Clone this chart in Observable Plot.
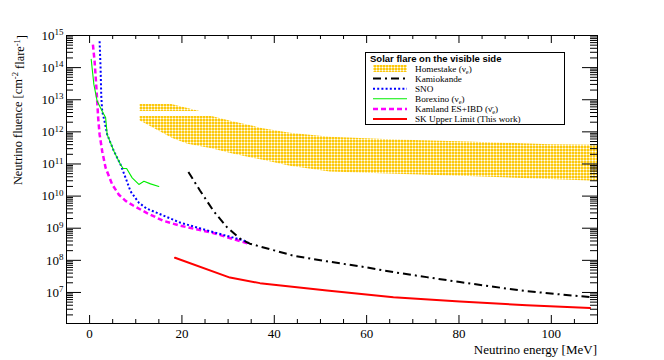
<!DOCTYPE html>
<html><head><meta charset="utf-8">
<script src="https://cdn.jsdelivr.net/npm/d3@7"></script>
<script src="https://cdn.jsdelivr.net/npm/@observablehq/plot@0.6"></script>
<style>
body{margin:0;background:#fff;}
#wrap{width:664px;height:360px;}
</style>
</head><body><div id="wrap"></div>
<script>
// ---- data ----
const xMajor = [0, 20, 40, 60, 80, 100];
const xMinor = [5, 10, 15, 25, 30, 35, 45, 50, 55, 65, 70, 75, 85, 90, 95, 105];
const yMajor = [1e7, 1e8, 1e9, 1e10, 1e11, 1e12, 1e13, 1e14, 1e15];
const yDecades = [6, 7, 8, 9, 10, 11, 12, 13, 14];
const yMinorFactors = [2, 3, 4, 5, 6, 7, 8, 9];

// Homestake band (main part)
const hsE    = [10.9, 18, 21.3, 26.5, 30.8, 37.6, 43.5, 52.1, 66.5, 82, 99.7, 110];
const hsHigh = [3.0e12, 3.0e12, 3.0e12, 3.0e12, 2.1e12, 1.26e12, 9.1e11, 6.8e11, 5.6e11, 4.8e11, 4.0e11, 3.8e11];
const hsLow  = [2.2e12, 6.2e11, 4.1e11, 3.0e11, 2.1e11, 1.3e11, 8.5e10, 5.6e10, 4.8e10, 4.1e10, 3.3e10, 2.9e10];
// Homestake band (small upper part)
const hs2E    = [10.9, 17.8, 23.9];
const hs2High = [7.1e12, 7.1e12, 4.3e12];
const hs2Low  = [4.3e12, 4.3e12, 4.3e12];

const kamiokandeE = [21.4, 23.9, 26.8, 29.7, 32.6, 34.7, 44.1, 51.4, 58.6, 65.8, 73.0, 80.2, 87.5, 94.7, 101.9, 108.8];
const kamiokandeF = [5.6e10, 1.5e10, 3.5e9, 1.1e9, 4.7e8, 3.3e8, 1.4e8, 9.3e7, 6.5e7, 4.3e7, 3.0e7, 2.1e7, 1.5e7, 1.1e7, 8.7e6, 7.1e6];

const snoE = [2.17, 2.38, 2.52, 2.73, 3.25, 3.81, 5.27, 6.72, 7.80, 8.88, 10.68, 12.35, 19.57, 26.7, 33.3, 34.4];
const snoF = [6.6e14, 1.0e14, 1.4e13, 4.4e12, 2.1e12, 8.3e11, 2.5e11, 9.5e10, 3.7e10, 1.4e10, 6.2e9, 4.1e9, 1.5e9, 7.6e8, 4.2e8, 3.5e8];

const borexinoE = [0.35, 0.93, 1.65, 2.73, 3.47, 3.81, 5.27, 6.72, 7.28, 8.02, 9.23, 10.68, 11.77, 13.2, 15.0];
const borexinoF = [1.8e14, 3.0e13, 8.9e12, 4.4e12, 2.8e12, 8.3e11, 2.5e11, 9.5e10, 7.2e10, 7.2e10, 3.7e10, 2.3e10, 2.9e10, 2.4e10, 2.0e10];

const kamlandE = [0.72, 1.08, 1.43, 1.65, 1.86, 2.17, 2.73, 3.47, 4.90, 6.35, 7.80, 9.45, 12.35, 15.95, 19.57, 26.78, 34.4];
const kamlandF = [5.2e14, 1.6e14, 3.0e13, 8.9e12, 2.7e12, 8.3e11, 2.5e11, 7.6e10, 2.3e10, 1.1e10, 7.1e9, 5.1e9, 3.0e9, 1.7e9, 1.2e9, 7.1e8, 3.3e8];

const skE = [18.5, 30.4, 36.9, 51.4, 65.8, 80.2, 94.7, 108.4];
const skF = [1.2e8, 2.9e7, 1.95e7, 1.15e7, 7.1e6, 5.2e6, 4.0e6, 3.3e6];

// ---- build ----
const W = 664, H = 360, mL = 66, mR = 67, mT = 35, mB = 37;
const innerW = W - mL - mR, innerH = H - mT - mB;
const fontSerif = "'Liberation Serif', 'Times New Roman', serif";
const yMinor = yDecades.flatMap(d => yMinorFactors.map(k => k * Math.pow(10, d))).filter(v => v > 1.08e6 && v < 1e15);
const pts = (E, F) => E.map((e, i) => ({e, f: F[i]}));
const band = (E, lo, hi) => E.map((e, i) => ({e, lo: lo[i], hi: hi[i]}));

const plot = Plot.plot({
  width: W, height: H,
  marginLeft: mL, marginRight: mR, marginTop: mT, marginBottom: mB,
  style: {fontFamily: fontSerif, fontSize: "13px", background: "white", color: "black"},
  x: {domain: [-5, 110]},
  y: {type: "log", domain: [1.08e6, 1e15]},
  marks: [
    Plot.areaY(band(hsE, hsLow, hsHigh), {x: "e", y1: "lo", y2: "hi", fill: "url(#hsPattern)", clip: true}),
    Plot.areaY(band(hs2E, hs2Low, hs2High), {x: "e", y1: "lo", y2: "hi", fill: "url(#hsPattern)", clip: true}),
    Plot.line(pts(kamlandE, kamlandF), {x: "e", y: "f", stroke: "#ff00ff", strokeWidth: 2.5, strokeDasharray: "5,3", strokeLinecap: "butt", clip: true}),
    Plot.line(pts(snoE, snoF), {x: "e", y: "f", stroke: "#0000ff", strokeWidth: 2, strokeDasharray: "2,2.2", strokeLinecap: "butt", clip: true}),
    Plot.line(pts(borexinoE, borexinoF), {x: "e", y: "f", stroke: "#00ee00", strokeWidth: 1.1, clip: true}),
    Plot.line(pts(kamiokandeE, kamiokandeF), {x: "e", y: "f", stroke: "black", strokeWidth: 2, strokeDasharray: "8,4,2,4", strokeLinecap: "butt", clip: true}),
    Plot.line(pts(skE, skF), {x: "e", y: "f", stroke: "#ff0000", strokeWidth: 2, clip: true}),
    Plot.frame({stroke: "black"}),
    // x ticks (inward), bottom and top
    Plot.tickX(xMajor, {x: d => d, stroke: "black", insetTop: innerH - 8}),
    Plot.tickX(xMinor, {x: d => d, stroke: "black", insetTop: innerH - 4}),
    Plot.tickX(xMajor, {x: d => d, stroke: "black", insetBottom: innerH - 8}),
    Plot.tickX(xMinor, {x: d => d, stroke: "black", insetBottom: innerH - 4}),
    // y ticks (inward), left and right
    Plot.tickY(yMajor, {y: d => d, stroke: "black", insetRight: innerW - 15}),
    Plot.tickY(yMinor, {y: d => d, stroke: "black", insetRight: innerW - 7}),
    Plot.tickY(yMajor, {y: d => d, stroke: "black", insetLeft: innerW - 15}),
    Plot.tickY(yMinor, {y: d => d, stroke: "black", insetLeft: innerW - 7}),
    Plot.axisX(xMajor, {anchor: "bottom", tickSize: 0, tickPadding: 5, label: null, tickFormat: d => String(d), fontSize: 13, fontFamily: fontSerif}),
    Plot.axisY(yMajor, {anchor: "left", tickSize: 0, tickPadding: 3, label: null, tickFormat: d => "10^" + Math.round(Math.log10(d)), fontSize: 13, fontFamily: fontSerif})
  ]
});
document.getElementById("wrap").appendChild(plot);

const svg = d3.select(plot);
// force serif on all axis texts
svg.selectAll("text").attr("font-family", fontSerif).style("font-family", fontSerif);
svg.selectAll("g[aria-label$='axis tick label']").attr("font-family", fontSerif);

// pattern for Homestake fill
const defs = svg.insert("defs", ":first-child");
const pat = defs.append("pattern").attr("id", "hsPattern").attr("patternUnits", "userSpaceOnUse")
  .attr("width", 3).attr("height", 3);
pat.append("rect").attr("width", 3).attr("height", 3).attr("fill", "#fdc80c");
pat.append("rect").attr("x", 1).attr("y", 0).attr("width", 1).attr("height", 3).attr("fill", "#fde68a");
pat.append("rect").attr("x", 0).attr("y", 1).attr("width", 3).attr("height", 1).attr("fill", "#fde68a");
pat.append("rect").attr("x", 1).attr("y", 1).attr("width", 1).attr("height", 1).attr("fill", "#ffffff");

// superscript exponents for y tick labels
svg.selectAll("text").each(function() {
  const t = d3.select(this);
  const m = /^10\^(\d+)$/.exec(t.text());
  if (m) {
    t.text("10");
    t.append("tspan").attr("dy", "-0.5em").attr("font-size", "9px").text(m[1]);
  }
});

// axis titles
svg.append("text").attr("x", 597).attr("y", 354).attr("text-anchor", "end")
  .attr("font-family", fontSerif).attr("font-size", 13).text("Neutrino energy [MeV]");
const yt = svg.append("text").attr("transform", "translate(22,35) rotate(-90)").attr("text-anchor", "end")
  .attr("font-family", fontSerif).attr("font-size", 12.4);
yt.append("tspan").text("Neutrino fluence [cm");
yt.append("tspan").attr("dy", "-0.5em").attr("font-size", 8.5).text("-2");
yt.append("tspan").attr("dy", "0.5em").text(" flare");
yt.append("tspan").attr("dy", "-0.5em").attr("font-size", 8.5).text("-1");
yt.append("tspan").attr("dy", "0.5em").text("]");

// legend
const lg = svg.append("g").attr("text-anchor", "start");
lg.append("rect").attr("x", 365.5).attr("y", 52.5).attr("width", 199).attr("height", 72)
  .attr("fill", "white").attr("stroke", "black");
lg.append("text").attr("x", 370).attr("y", 61.5).attr("text-anchor", "start").attr("font-family", "'Liberation Sans', Arial, sans-serif")
  .attr("font-weight", "bold").attr("font-size", 9.5).text("Solar flare on the visible side");
const rows = [
  {name: "Homestake", sub: "e", nu: "ν", type: "band"},
  {name: "Kamiokande", stroke: "black", w: 2, dash: "8,4,2,4"},
  {name: "SNO", stroke: "#0000ff", w: 2, dash: "2,2.2"},
  {name: "Borexino", sub: "e", nu: "ν", stroke: "#00ee00", w: 1.1},
  {name: "Kamland ES+IBD", sub: "e", nu: "ν\u0304", stroke: "#ff00ff", w: 2.5, dash: "5,3"},
  {name: "SK Upper Limit (This work)", stroke: "#ff0000", w: 2}
];
rows.forEach((r, i) => {
  const cy = 68.5 + i * 10.1;
  if (r.type === "band") {
    lg.append("rect").attr("x", 373).attr("y", cy - 3.5).attr("width", 34).attr("height", 7).attr("fill", "url(#hsPattern)");
  } else {
    lg.append("line").attr("x1", 373).attr("x2", 407).attr("y1", cy).attr("y2", cy)
      .attr("stroke", r.stroke).attr("stroke-width", r.w).attr("stroke-dasharray", r.dash || null);
  }
  const t = lg.append("text").attr("x", 415).attr("y", cy + 3.2).attr("text-anchor", "start").attr("font-family", fontSerif).attr("font-size", 9.2);
  if (r.sub) {
    t.append("tspan").text(r.name + " (" + r.nu);
    t.append("tspan").attr("dy", 2).attr("font-size", 6.3).text(r.sub);
    t.append("tspan").attr("dy", -2).text(")");
  } else {
    t.text(r.name);
  }
});
</script>
</body></html>
